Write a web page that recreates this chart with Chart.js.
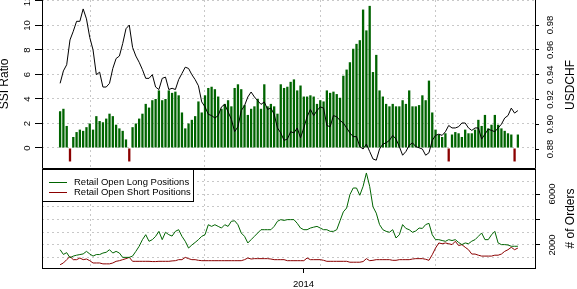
<!DOCTYPE html>
<html lang="en">
<head>
<meta charset="utf-8">
<title>SSI USDCHF</title>
<script src="https://cdn.jsdelivr.net/npm/chart.js@4/dist/chart.umd.min.js"></script>
<style>
  body { margin: 0; background: #fff; width: 577px; height: 289px; overflow: hidden; }
  canvas { position: absolute; left: 0; }
  #topChart { top: 0; }
  #botChart { top: 168px; }
</style>
</head>
<body>
<canvas id="topChart" width="577" height="169"></canvas>
<canvas id="botChart" width="577" height="121"></canvas>

<script>
// SSI ratio, one bar per period (negative = net short)
const ssiRatio = [
  3.0, 3.2, 1.8, -1.1, 0.9, 1.3, 1.5, 1.4, 1.7, 2.0,
  1.5, 2.6, 2.2, 2.1, 2.4, 2.8, 2.6, 1.9, 1.6, 1.4,
  0.7, -1.1, 1.7, 2.0, 2.4, 2.8, 3.6, 3.3, 3.9, 4.0,
  4.7, 3.9, 4.0, 4.7, 4.5, 4.6, 4.3, 2.9, 1.6, 2.0,
  2.3, 2.6, 3.8, 2.9, 4.3, 4.9, 5.0, 4.8, 4.2, 3.2,
  3.6, 3.9, 3.4, 4.9, 5.2, 4.8, 3.5, 2.7, 3.2, 3.4,
  4.0, 3.2, 5.2, 3.4, 3.6, 3.4, 2.8, 5.2, 4.9, 5.0,
  5.4, 5.6, 4.7, 5.1, 4.2, 4.2, 4.3, 4.2, 3.6, 3.9,
  3.8, 4.7, 4.5, 4.6, 4.4, 4.1, 5.9, 6.4, 7.0, 8.1,
  8.5, 8.8, 11.3, 9.6, 11.6, 6.2, 7.6, 4.7, 4.2, 3.6,
  3.4, 3.6, 3.4, 3.4, 3.9, 3.6, 4.7, 3.4, 3.4, 3.5,
  4.3, 3.9, 5.5, 2.9, 1.5, 1.1, 0.9, 1.2, -1.1, 1.1,
  1.3, 1.2, 0.9, 1.5, 1.2, 1.2, 1.5, 2.3, 1.8, 2.7,
  1.6, 1.9, 2.7, 1.9, 1.6, 1.4, 1.2, 1.1, -1.1, 1.1
];

const usdchf = [
  .933, .943, .948, .968, .975, .983, .983, .993, .985, .970,
  .960, .940, .942, .930, .930, .933, .945, .953, .955, .965,
  .977, .980, .962, .955, .950, .944, .937, .937, .940, .930,
  .928, .937, .938, .928, .929, .928, .936, .941, .946, .945,
  .940, .936, .931, .918, .914, .908, .907, .905, .907, .914,
  .916, .910, .904, .894, .898, .911, .915, .922, .926, .922,
  .919, .916, .918, .912, .913, .908, .897, .893, .887, .888,
  .894, .893, .897, .889, .897, .906, .912, .907, .911, .914,
  .913, .899, .898, .907, .906, .903, .901, .897, .893, .890,
  .890, .882, .880, .884, .878, .872, .871, .880, .884, .885,
  .887, .891, .888, .882, .875, .878, .883, .885, .882, .881,
  .880, .875, .877, .887, .891, .892, .891, .894, .899, .897,
  .897, .898, .901, .901, .897, .895, .897, .897, .888, .892,
  .896, .895, .894, .897, .900, .905, .907, .913, .909, .911
];

const longPositions = [
  1630, 1260, 1400, 1000, 1130, 1200, 1250, 1300, 1500, 1300,
  1130, 1250, 1250, 1370, 1430, 1630, 1370, 1500, 1370, 1030,
  1030, 1030, 1130, 1500, 1900, 2420, 2810, 2290, 2420, 2680,
  3070, 2420, 3000, 2810, 2700, 3070, 3200, 2680, 2290, 1760,
  2000, 2200, 2420, 2680, 2810, 3590, 3460, 3590, 3460, 3330,
  3590, 3460, 3860, 3900, 3590, 2940, 2680, 2160, 2420, 2680,
  2940, 3200, 3200, 3200, 3200, 3460, 3860, 3990, 3930, 3990,
  3990, 3990, 3700, 3330, 3200, 3200, 3330, 3400, 3460, 3330,
  3200, 3200, 3070, 3070, 3200, 3900, 4600, 4900, 5950, 6470,
  6470, 5900, 6600, 7650, 6600, 5000, 4500, 3600, 3200, 3070,
  3000, 3200, 2550, 2800, 3600, 3300, 3200, 3000, 3100, 3330,
  3300, 3600, 3700, 2800, 2420, 2420, 2350, 2290, 2420, 2350,
  2420, 2200, 2030, 2160, 2100, 2300, 2420, 2680, 2940, 2420,
  2420, 2800, 3070, 2160, 2030, 2030, 2000, 1900, 1900, 1900
];

const shortPositions = [
  455, 590, 850, 1100, 850, 850, 980, 850, 900, 770,
  590, 590, 590, 520, 520, 520, 590, 720, 770, 850,
  930, 1030, 720, 720, 720, 720, 720, 720, 700, 700,
  720, 720, 720, 720, 750, 770, 850, 850, 1030, 930,
  850, 850, 800, 770, 770, 770, 770, 770, 770, 770,
  770, 770, 770, 770, 770, 770, 850, 980, 900, 930,
  930, 930, 930, 930, 900, 850, 850, 850, 850, 770,
  770, 770, 770, 770, 770, 980, 850, 850, 850, 850,
  800, 720, 720, 720, 720, 720, 720, 720, 650, 650,
  650, 650, 700, 930, 770, 800, 850, 850, 850, 850,
  850, 800, 800, 850, 850, 850, 850, 900, 930, 930,
  930, 880, 800, 1240, 1760, 2160, 2100, 2160, 2100, 2030,
  2290, 1960, 2030, 1820, 1630, 1290, 1290, 1200, 1130, 1130,
  1130, 1130, 1200, 1200, 1290, 1500, 1630, 1820, 1630, 1760
];

// axis ticks (x in periods)
const gridTicks = [9.1, 43.8, 79.0, 114.0];
const yearTick = 73.9;
const yearLabel = '2014';
const ssiTicks = [0, 2, 4, 6, 8, 10, 12];
const usdchfTicks = [0.88, 0.90, 0.92, 0.94, 0.96, 0.98];
const orderGrid = [1000, 2000, 3000, 4000, 5000, 6000, 7000];
const orderTicks = [2000, 4000, 6000];
const orderLabels = [2000, 6000];

const GREEN = '#006400';
const RED = '#8b0000';
const GRID = '#c8c8c8';
const tickFont = "9.5px 'Liberation Sans', Arial, sans-serif";
const titleFont = "12px 'Liberation Sans', Arial, sans-serif";

function vText(ctx, txt, x, y) {  // text reading bottom to top
  ctx.save();
  ctx.translate(x, y);
  ctx.rotate(-Math.PI / 2);
  ctx.textAlign = 'center';
  ctx.textBaseline = 'middle';
  ctx.fillText(txt, 0, 0);
  ctx.restore();
}

function fixW(w) { return function (s) { s.width = w; }; }
function fixH(h) { return function (s) { s.height = h; }; }
function setTicks(vals) { return function (s) { s.ticks = vals.map(v => ({ value: v })); }; }

const xOpts = {
  type: 'linear', min: -5.5, max: 144.2, offset: false,
  ticks: { display: false },
  border: { display: false, dash: [2, 3] },
  grid: { offset: false, color: GRID, drawTicks: false }
};

// top panel: SSI bars + USDCHF
const topFrame = {
  id: 'topFrame',
  afterDraw(chart) {
    const { ctx, chartArea: a, scales } = chart;
    ctx.save();
    ctx.strokeStyle = '#000';
    ctx.lineWidth = 1;
    ctx.beginPath();
    ctx.moveTo(a.left + 0.5, a.top);
    ctx.lineTo(a.left + 0.5, a.bottom + 0.5);
    ctx.lineTo(a.right + 0.5, a.bottom + 0.5);
    ctx.lineTo(a.right + 0.5, a.top);
    ctx.stroke();
    ctx.fillStyle = '#000';
    ctx.font = tickFont;
    ssiTicks.forEach(v => vText(ctx, String(v), a.left - 15, scales.y.getPixelForValue(v)));
    usdchfTicks.forEach(v => vText(ctx, v.toFixed(2), a.right + 15, scales.y1.getPixelForValue(v)));
    ctx.font = titleFont;
    vText(ctx, 'SSI Ratio', a.left - 37, (a.top + a.bottom) / 2);
    vText(ctx, 'USDCHF', a.right + 36, (a.top + a.bottom) / 2 + 1);
    ctx.restore();
  }
};

new Chart(document.getElementById('topChart'), {
  type: 'bar',
  data: {
    datasets: [{
      type: 'line',
      data: usdchf.map((v, i) => ({ x: i, y: v })),
      yAxisID: 'y1',
      borderColor: '#000',
      borderWidth: 1,
      pointRadius: 0,
      tension: 0,
      order: 0
    }, {
      type: 'bar',
      data: ssiRatio.map((v, i) => ({ x: i, y: v })),
      yAxisID: 'y',
      backgroundColor: c => (c.raw && c.raw.y < 0 ? RED : GREEN),
      borderWidth: 0,
      categoryPercentage: 1,
      barPercentage: 0.7,
      order: 1
    }]
  },
  options: {
    responsive: false,
    animation: false,
    devicePixelRatio: 1,
    layout: { padding: 0 },
    plugins: { legend: { display: false }, tooltip: { enabled: false } },
    scales: {
      x: Object.assign({}, xOpts, { afterBuildTicks: setTicks(gridTicks), afterFit: fixH(1) }),
      y: {
        position: 'left', min: -1.633, max: 12.08,
        afterBuildTicks: setTicks(ssiTicks), afterFit: fixW(42),
        ticks: { display: false },
        border: { display: false, dash: [2, 3] },
        grid: { color: GRID, drawTicks: true, tickLength: 7, tickColor: '#000' }
      },
      y1: {
        position: 'right', min: 0.8647, max: 1.0002,
        afterBuildTicks: setTicks(usdchfTicks), afterFit: fixW(42),
        ticks: { display: false },
        border: { display: false },
        grid: { drawOnChartArea: false, drawTicks: true, tickLength: 4, tickColor: '#000' }
      }
    }
  },
  plugins: [topFrame]
});

// bottom panel: open positions
const botFrame = {
  id: 'botFrame',
  afterDraw(chart) {
    const { ctx, chartArea: a, scales } = chart;
    ctx.save();
    ctx.strokeStyle = '#000';
    ctx.lineWidth = 1;
    ctx.strokeRect(a.left + 0.5, a.top + 0.5, a.right - a.left, a.bottom - a.top);

    // legend
    ctx.fillStyle = '#fff';
    ctx.fillRect(a.left + 0.5, a.top + 0.5, 151, 32);
    ctx.strokeRect(a.left + 0.5, a.top + 0.5, 151, 32);
    const rows = [['Retail Open Long Positions', GREEN], ['Retail Open Short Positions', RED]];
    ctx.font = tickFont;
    ctx.textAlign = 'left';
    ctx.textBaseline = 'middle';
    rows.forEach((r, k) => {
      const yy = a.top + 13.5 + k * 10;
      ctx.strokeStyle = r[1];
      ctx.beginPath();
      ctx.moveTo(a.left + 7, yy);
      ctx.lineTo(a.left + 25, yy);
      ctx.stroke();
      ctx.fillStyle = '#000';
      ctx.fillText(r[0], a.left + 32, yy);
    });

    ctx.fillStyle = '#000';
    orderLabels.forEach(v => vText(ctx, String(v), a.right + 17, scales.y2.getPixelForValue(v)));
    ctx.textAlign = 'center';
    ctx.textBaseline = 'middle';
    ctx.fillText(yearLabel, scales.x.getPixelForValue(yearTick), a.bottom + 16);
    ctx.font = titleFont;
    vText(ctx, '# of Orders', a.right + 36, (a.top + a.bottom) / 2);
    ctx.restore();
  }
};

new Chart(document.getElementById('botChart'), {
  type: 'line',
  data: {
    datasets: [{
      label: 'Retail Open Long Positions',
      data: longPositions.map((v, i) => ({ x: i, y: v })),
      borderColor: GREEN, borderWidth: 1, pointRadius: 0, tension: 0
    }, {
      label: 'Retail Open Short Positions',
      data: shortPositions.map((v, i) => ({ x: i, y: v })),
      borderColor: RED, borderWidth: 1, pointRadius: 0, tension: 0
    }]
  },
  options: {
    responsive: false,
    animation: false,
    devicePixelRatio: 1,
    layout: { padding: { top: 1, left: 0, right: 0, bottom: 0 } },
    plugins: { legend: { display: false }, tooltip: { enabled: false } },
    scales: {
      x: Object.assign({}, xOpts, {
        afterBuildTicks: setTicks(gridTicks.concat([yearTick]).sort((p, q) => p - q)),
        afterFit: fixH(21),
        grid: {
          offset: false, drawTicks: true, tickLength: 5,
          color: c => (c.tick && c.tick.value === yearTick ? 'rgba(0,0,0,0)' : GRID),
          tickColor: c => (c.tick && c.tick.value === yearTick ? '#000' : 'rgba(0,0,0,0)')
        }
      }),
      y: {
        position: 'left', min: 196, max: 7961,
        afterBuildTicks: setTicks(orderGrid), afterFit: fixW(42),
        ticks: { display: false },
        border: { display: false, dash: [2, 3] },
        grid: { color: GRID, drawTicks: false }
      },
      y2: {
        position: 'right', min: 196, max: 7961,
        afterBuildTicks: setTicks(orderTicks), afterFit: fixW(42),
        ticks: { display: false },
        border: { display: false },
        grid: { drawOnChartArea: false, drawTicks: true, tickLength: 5, tickColor: '#000' }
      }
    }
  },
  plugins: [botFrame]
});
</script>
</body>
</html>
